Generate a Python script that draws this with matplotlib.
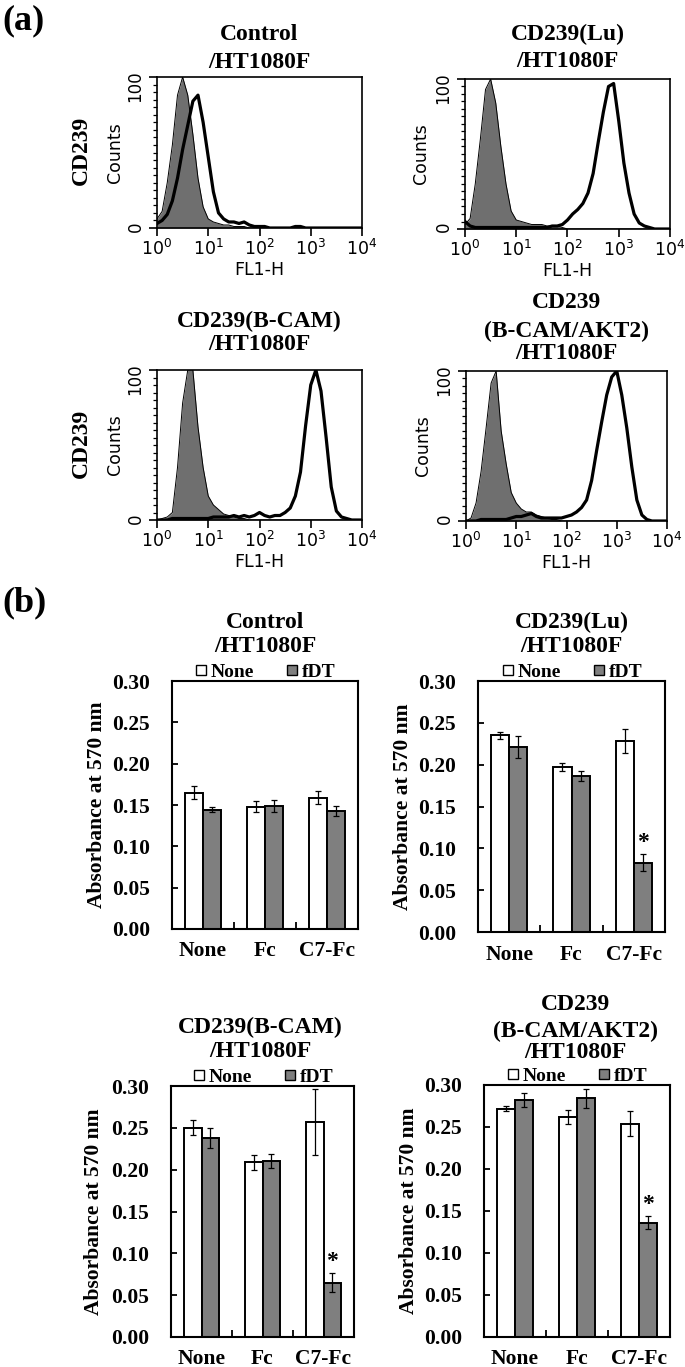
import matplotlib
matplotlib.use("Agg")
import matplotlib.pyplot as plt
from matplotlib.lines import Line2D
from matplotlib.ticker import MultipleLocator, FixedLocator, LogLocator, NullFormatter

plt.rcParams['mathtext.fontset'] = 'dejavusans'
plt.rcParams['font.family'] = ['DejaVu Sans']

W, H, DPI = 685, 1367, 100
SERIF = ['Liberation Serif', 'DejaVu Serif']

# ---------------- (a) flow cytometry histograms ----------------
log_fl = [0.0, 0.1, 0.2, 0.3, 0.4, 0.5, 0.6, 0.7, 0.8, 0.9,
          1.0, 1.1, 1.2, 1.3, 1.4, 1.5, 1.6, 1.7, 1.8, 1.9,
          2.0, 2.1, 2.2, 2.3, 2.4, 2.5, 2.6, 2.7, 2.8, 2.9,
          3.0, 3.1, 3.2, 3.3, 3.4, 3.5, 3.6, 3.7, 3.8, 3.9, 4.0]

control_iso = [6, 11, 30, 55, 88, 100, 88, 62, 33, 14,
               6, 4, 3, 2, 2, 1, 1, 1, 0, 0,
               0, 0, 0, 0, 0, 0, 0, 0, 0, 0,
               0, 0, 0, 0, 0, 0, 0, 0, 0, 0, 0]
control_cd239 = [3, 5, 9, 18, 33, 52, 68, 84, 88, 70,
                 47, 24, 10, 6, 4, 4, 3, 4, 2, 1,
                 1, 1, 0, 0, 0, 0, 0, 1, 1, 0,
                 0, 0, 0, 0, 0, 0, 0, 0, 0, 0, 0]

lu_iso = [3, 7, 30, 60, 93, 100, 84, 55, 30, 12,
          6, 5, 4, 3, 3, 3, 2, 2, 2, 1,
          0, 0, 0, 0, 0, 0, 0, 0, 0, 0,
          0, 0, 0, 0, 0, 0, 0, 0, 0, 0, 0]
lu_cd239 = [5, 2, 1, 1, 1, 1, 1, 1, 1, 1,
            1, 1, 1, 1, 1, 1, 1, 2, 2, 3,
            6, 10, 13, 17, 24, 37, 58, 78, 95, 97,
            72, 44, 24, 10, 4, 2, 1, 0, 0, 0, 0]

bcam_iso = [0, 1, 2, 5, 35, 78, 100, 100, 62, 35,
            16, 10, 7, 4, 3, 2, 1, 1, 0, 0,
            0, 0, 0, 0, 0, 0, 0, 0, 0, 0,
            0, 0, 0, 0, 0, 0, 0, 0, 0, 0, 0]
bcam_cd239 = [0, 0, 0, 1, 1, 1, 1, 1, 1, 1,
              1, 2, 2, 2, 2, 3, 2, 3, 2, 3,
              5, 3, 2, 3, 3, 5, 8, 16, 32, 63,
              90, 100, 86, 55, 22, 6, 2, 1, 0, 0, 0]

akt2_iso = [0, 2, 12, 33, 62, 92, 100, 60, 38, 19,
            12, 8, 6, 6, 4, 3, 2, 1, 1, 0,
            0, 0, 0, 0, 0, 0, 0, 0, 0, 0,
            0, 0, 0, 0, 0, 0, 0, 0, 0, 0, 0]
akt2_cd239 = [0, 0, 0, 1, 1, 1, 1, 1, 1, 2,
              3, 3, 4, 5, 3, 2, 2, 2, 2, 2,
              3, 4, 6, 9, 14, 27, 47, 66, 84, 96,
              100, 84, 62, 36, 14, 4, 1, 0, 0, 0, 0]

hist_titles = [["Control", "/HT1080F"],
               ["CD239(Lu)", "/HT1080F"],
               ["CD239(B-CAM)", "/HT1080F"],
               ["CD239", "(B-CAM/AKT2)", "/HT1080F"]]
decade_ticks = [1, 10, 100, 1000, 10000]

# ---------------- (b) cell viability bar charts ----------------
categories = ["None", "Fc", "C7-Fc"]
legend_labels = ["None", "fDT"]
y_ticks = [0.00, 0.05, 0.10, 0.15, 0.20, 0.25, 0.30]
y_tick_labels = ["0.00", "0.05", "0.10", "0.15", "0.20", "0.25", "0.30"]

ctrl_none = [0.165, 0.148, 0.159]
ctrl_none_err = [0.008, 0.007, 0.008]
ctrl_fdt = [0.144, 0.149, 0.143]
ctrl_fdt_err = [0.003, 0.007, 0.006]

lu_none = [0.235, 0.197, 0.228]
lu_none_err = [0.004, 0.005, 0.0145]
lu_fdt = [0.221, 0.186, 0.083]
lu_fdt_err = [0.013, 0.006, 0.010]

bcam_none = [0.250, 0.209, 0.257]
bcam_none_err = [0.009, 0.009, 0.039]
bcam_fdt = [0.238, 0.210, 0.065]
bcam_fdt_err = [0.012, 0.0085, 0.011]

akt2_none = [0.272, 0.262, 0.254]
akt2_none_err = [0.0025, 0.008, 0.015]
akt2_fdt = [0.282, 0.284, 0.136]
akt2_fdt_err = [0.008, 0.0115, 0.008]

bar_titles = [["Control", "/HT1080F"],
              ["CD239(Lu)", "/HT1080F"],
              ["CD239(B-CAM)", "/HT1080F"],
              ["CD239", "(B-CAM/AKT2)", "/HT1080F"]]
significant = [[False, False, False],
               [False, False, True],
               [False, False, True],
               [False, False, True]]

HGRAY = '#6f6f6f'
BGRAY = '#7f7f7f'

fig = plt.figure(figsize=(W / DPI, H / DPI), dpi=DPI)


def px_axes(l, t, r, b):
    return fig.add_axes([l / W, 1 - b / H, (r - l) / W, (b - t) / H])


def title_lines(xc, baselines, lines):
    for yb, s in zip(baselines, lines):
        fig.text(xc / W, 1 - yb / H, s, ha='center', va='baseline',
                 family=SERIF, weight='bold', fontsize=17)


def draw_hist(ax, iso, cd, xlab_coord):
    x = [10 ** v for v in log_fl]
    ax.fill_between(x, 0, iso, color=HGRAY, lw=0)
    ax.plot(x, iso, color='k', lw=0.7)
    ax.plot(x, cd, color='k', lw=2.3)
    ax.set_xscale('log')
    ax.set_xlim(1, 1e4)
    ax.set_ylim(0, 100)
    ax.set_xticks(decade_ticks)
    ax.xaxis.set_minor_locator(LogLocator(base=10, subs=range(2, 10)))
    ax.xaxis.set_minor_formatter(NullFormatter())
    ax.set_yticks([0, 100])
    ax.yaxis.set_minor_locator(MultipleLocator(5))
    ax.tick_params(which='major', direction='out', length=6, width=1.2)
    ax.tick_params(which='minor', direction='out', length=3, width=0.9)
    ax.tick_params(axis='y', labelrotation=90, pad=3, labelsize=12)
    ax.tick_params(axis='x', pad=2, labelsize=12.5)
    for s in ax.spines.values():
        s.set_linewidth(1.2)
    ax.set_xlabel('FL1-H', fontsize=12.5, labelpad=1)
    ax.set_ylabel('Counts', fontsize=12.5)
    ax.yaxis.set_label_coords(xlab_coord, 0.5)


def draw_bar(ax, nv, ne, fv, fe, sig, ylab_x):
    BW = 0.29
    xs = list(range(len(categories)))
    ekw = dict(elinewidth=0.9, capthick=0.9, ecolor='k')
    ax.bar([v - BW / 2 for v in xs], nv, BW, color='white', edgecolor='k',
           lw=1.4, yerr=ne, capsize=2.5, error_kw=ekw)
    ax.bar([v + BW / 2 for v in xs], fv, BW, color=BGRAY, edgecolor='k',
           lw=1.4, yerr=fe, capsize=2.5, error_kw=ekw)
    for i, flag in enumerate(sig):
        if flag:
            ax.annotate('*', xy=(xs[i] + BW / 2, fv[i] + fe[i]), xytext=(0, 1),
                        textcoords='offset points', ha='center', va='bottom',
                        family=SERIF, weight='bold', fontsize=17)
    ax.set_xlim(-0.5, 2.5)
    ax.set_ylim(0, 0.30)
    ax.set_xticks(xs)
    ax.set_xticklabels(categories, family=SERIF, weight='bold', fontsize=15.5)
    ax.set_yticks(y_ticks)
    ax.set_yticklabels(y_tick_labels, family=SERIF, weight='bold', fontsize=15.5)
    ax.xaxis.set_minor_locator(FixedLocator([0.5, 1.5]))
    ax.tick_params(axis='x', which='major', length=0, pad=9)
    ax.tick_params(axis='x', which='minor', direction='in', length=5, width=1.3)
    ax.tick_params(axis='y', direction='in', length=4, width=1.3, pad=16)
    for s in ax.spines.values():
        s.set_linewidth(1.5)
    ax.set_ylabel('Absorbance at 570 nm', family=SERIF, weight='bold', fontsize=15.5)
    ax.yaxis.set_label_coords(ylab_x, 0.5)
    handles = [Line2D([], [], marker='s', ls='', mfc='white', mec='k', ms=7, mew=1),
               Line2D([], [], marker='s', ls='', mfc=BGRAY, mec='k', ms=7, mew=1)]
    ax.legend(handles, legend_labels, loc='lower center', bbox_to_anchor=(0.5, 1.0),
              ncol=2, frameon=False, borderaxespad=0, borderpad=0,
              handlelength=0.7, handletextpad=0.15, columnspacing=1.6,
              prop=dict(family=SERIF, weight='bold', size=14))


# panel labels
fig.text(2 / W, 1 - 29 / H, '(a)', family=SERIF, weight='bold', fontsize=26, va='baseline')
fig.text(2 / W, 1 - 611 / H, '(b)', family=SERIF, weight='bold', fontsize=26, va='baseline')

# histograms
h1 = px_axes(157, 77, 362, 228)
draw_hist(h1, control_iso, control_cd239, -0.16)
title_lines(259.5, [40, 68], hist_titles[0])
h2 = px_axes(465, 79, 670, 229)
draw_hist(h2, lu_iso, lu_cd239, -0.17)
title_lines(567.5, [40, 67], hist_titles[1])
h3 = px_axes(157, 370, 362, 520)
draw_hist(h3, bcam_iso, bcam_cd239, -0.16)
title_lines(259.5, [327, 350], hist_titles[2])
h4 = px_axes(466, 371, 667, 521)
draw_hist(h4, akt2_iso, akt2_cd239, -0.17)
title_lines(566.5, [308, 337, 359], hist_titles[3])

for yc in (150, 443):
    fig.text(81 / W, 1 - yc / H, 'CD239', rotation=90, ha='center', va='center',
             family=SERIF, weight='bold', fontsize=17)

# bar charts
b1 = px_axes(172, 681, 358, 929)
draw_bar(b1, ctrl_none, ctrl_none_err, ctrl_fdt, ctrl_fdt_err, significant[0], -0.35)
title_lines(265, [628, 652], bar_titles[0])
b2 = px_axes(478, 681, 665, 932)
draw_bar(b2, lu_none, lu_none_err, lu_fdt, lu_fdt_err, significant[1], -0.35)
title_lines(571.5, [628, 652], bar_titles[1])
b3 = px_axes(171, 1086, 354, 1337)
draw_bar(b3, bcam_none, bcam_none_err, bcam_fdt, bcam_fdt_err, significant[2], -0.366)
title_lines(260, [1033, 1057], bar_titles[2])
b4 = px_axes(484, 1085, 670, 1337)
draw_bar(b4, akt2_none, akt2_none_err, akt2_fdt, akt2_fdt_err, significant[3], -0.35)
title_lines(575, [1010, 1037, 1058], bar_titles[3])

fig.savefig('out.png', dpi=DPI)
